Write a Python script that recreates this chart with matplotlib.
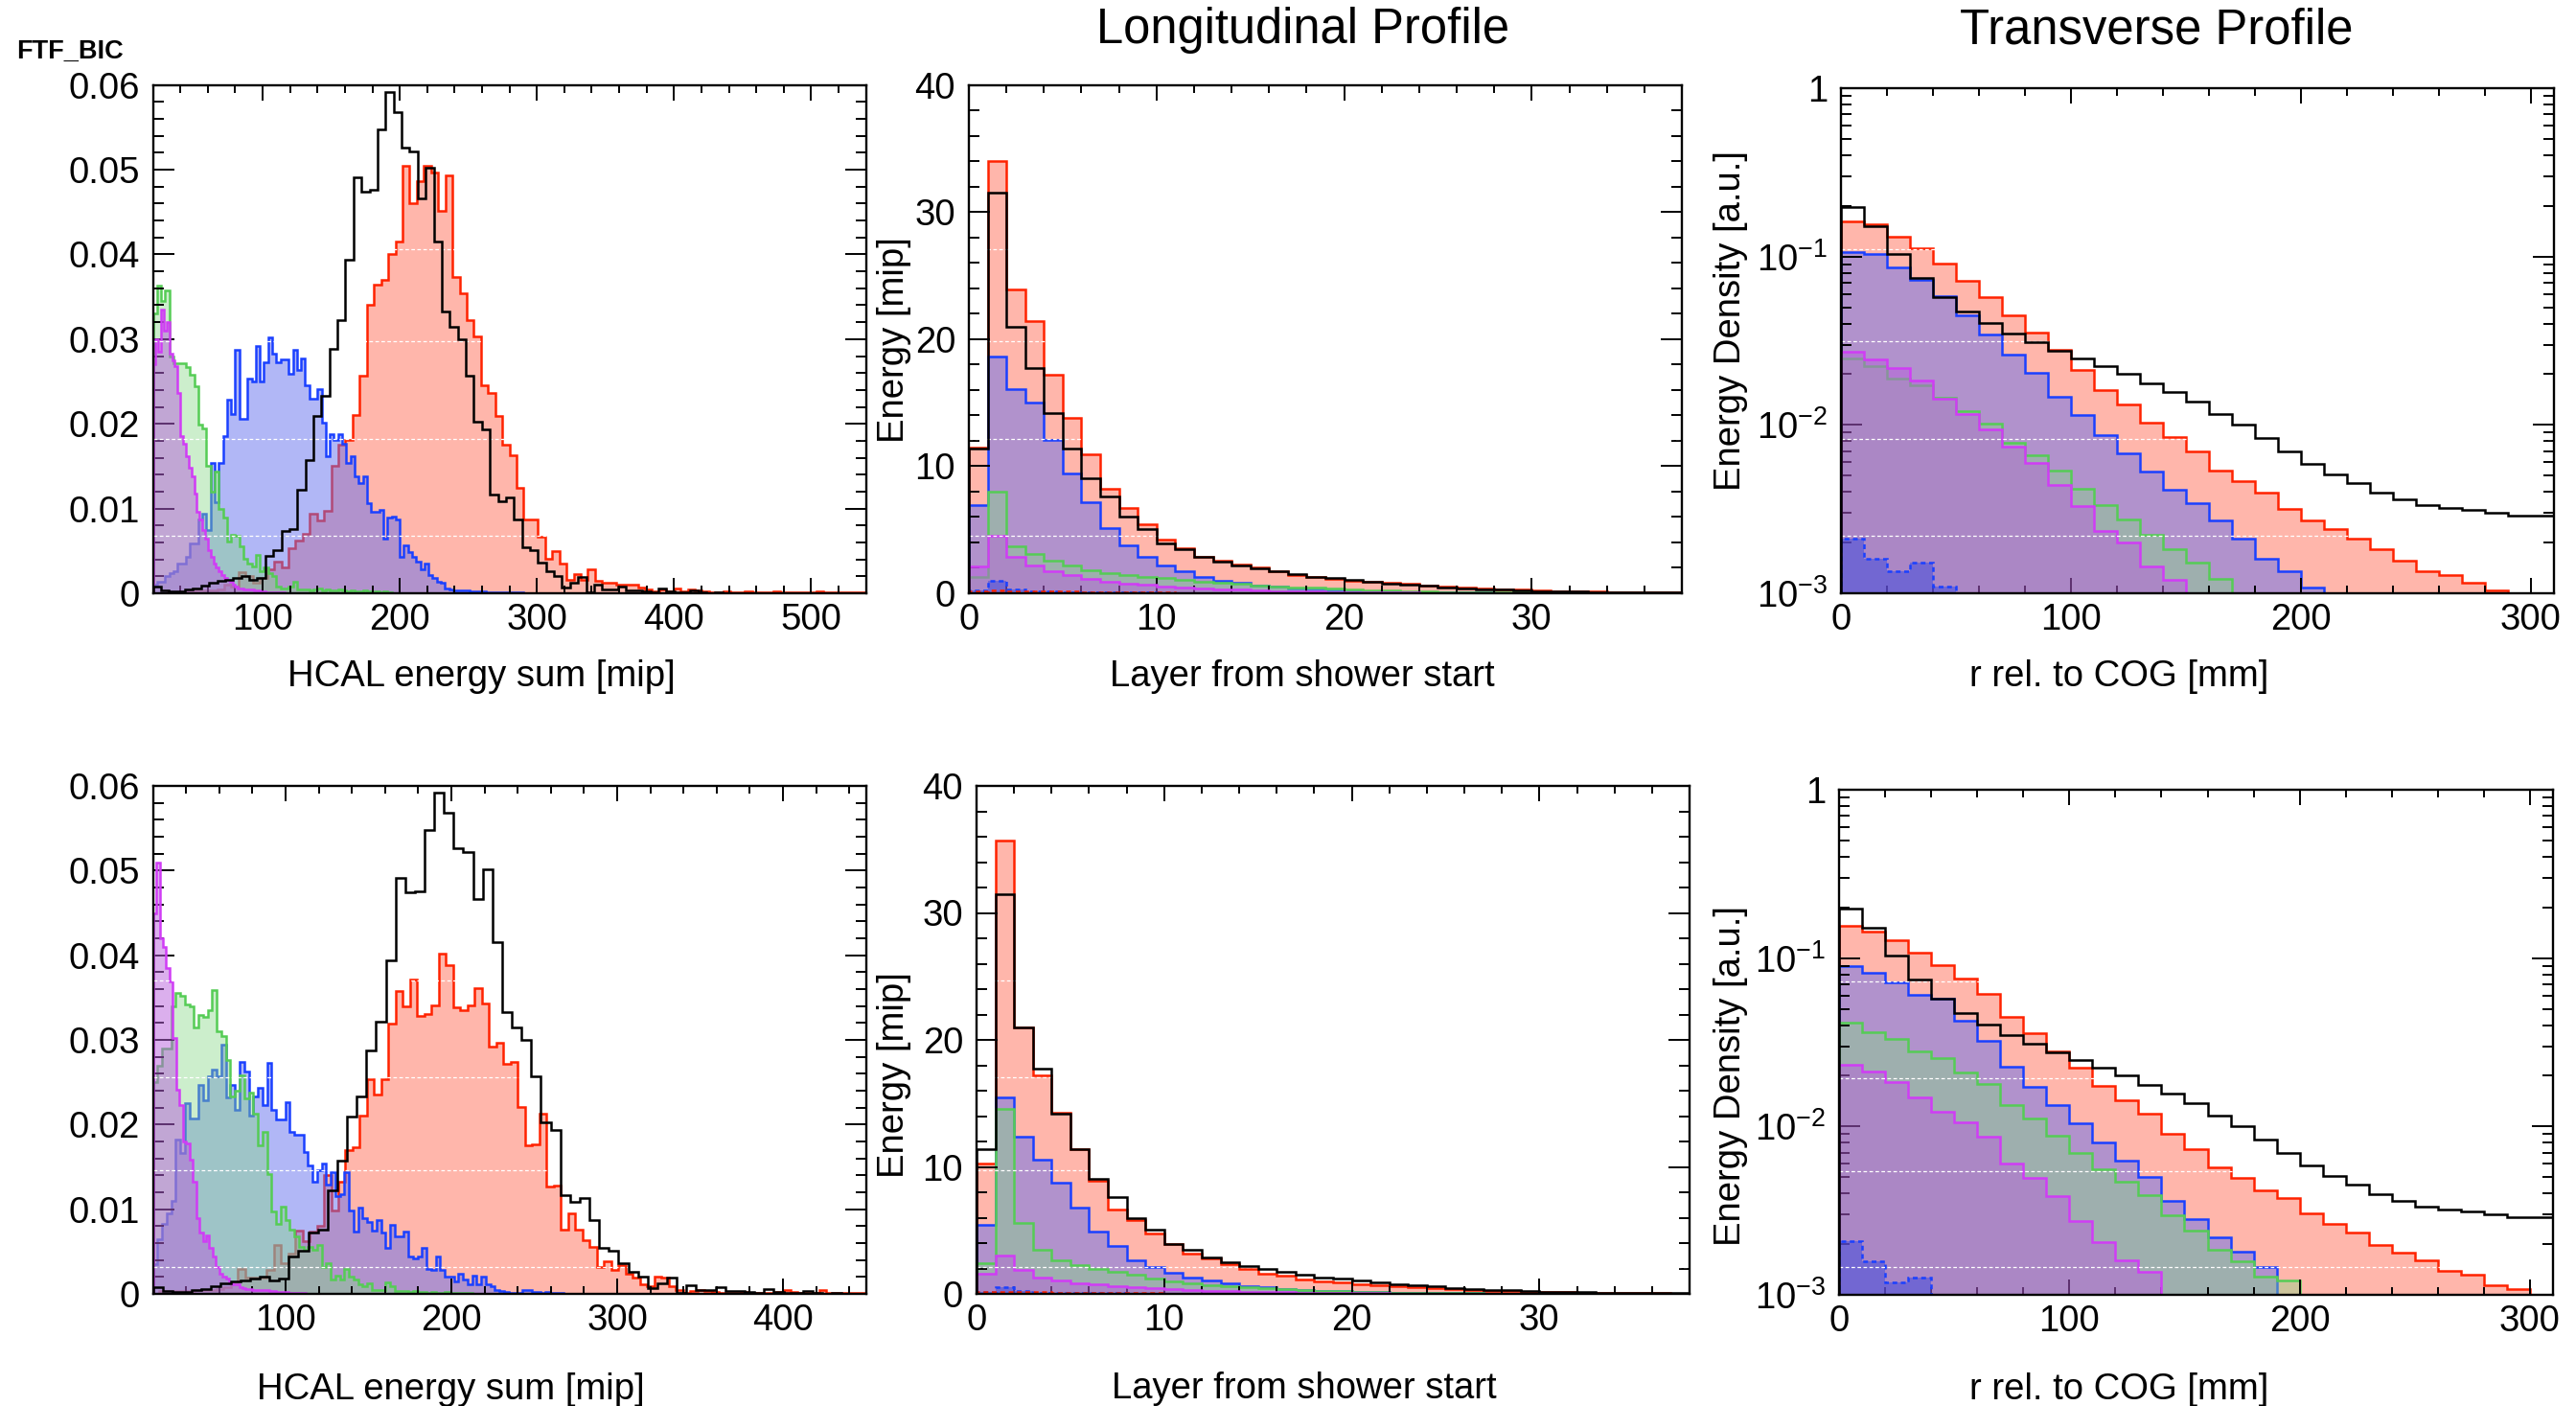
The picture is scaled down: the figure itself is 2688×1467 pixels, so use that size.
"""FTF_BIC: HCAL energy sum, longitudinal and transverse shower profiles (2 x 3 panels)."""

import matplotlib

matplotlib.use("Agg")
import matplotlib.pyplot as plt
import numpy as np
from matplotlib.ticker import (
    FixedFormatter,
    FixedLocator,
    FuncFormatter,
    LogLocator,
    MultipleLocator,
    NullFormatter,
)

plt.rcParams["font.family"] = ["Liberation Sans", "DejaVu Sans"]
plt.rcParams["mathtext.fontset"] = "custom"
plt.rcParams["mathtext.rm"] = "Liberation Sans"
plt.rcParams["mathtext.it"] = "Liberation Sans:italic"
plt.rcParams["mathtext.bf"] = "Liberation Sans:bold"

# ---------------- data: energy sum (top row) ----------------
# black = data, same in both rows; 5.85 mip bins from 20 mip
E_BLACK_START, E_BLACK_WIDTH = 20.0, 5.85
e_black = [0.0008, 0.0003, 0.0002, 0.0002, 0.0004, 0.0006, 0.0009, 0.0012, 0.0015, 0.0016,
           0.0018, 0.0020, 0.0016, 0.0018, 0.0044, 0.0051, 0.0073, 0.0076, 0.0122, 0.0157,
           0.0209, 0.0233, 0.0288, 0.0322, 0.0394, 0.0491, 0.0474, 0.0476, 0.0548, 0.0592,
           0.0568, 0.0526, 0.0522, 0.0466, 0.0502, 0.0415, 0.0333, 0.0315, 0.0300, 0.0257,
           0.0203, 0.0194, 0.0117, 0.0109, 0.0113, 0.0087, 0.0054, 0.0051, 0.0036, 0.0026,
           0.0020, 0.0007, 0.0013, 0.0019, 0.0001, 0.0010, 0.0005, 0.0004, 0.0008, 0.0003,
           0.0003, 0.0002, 0.0001, 0.0006, 0.0002, 0.0001, 0.0001, 0.0003, 0.0001, 0.0, 0.0001]

E1_RED_START, E1_RED_WIDTH = 20.0, 5.2
e1_red = [0.0, 0.0, 0.0001, 0.0001, 0.0002, 0.0002, 0.0003, 0.0003, 0.0003, 0.0005,
          0.0010, 0.0008, 0.0025, 0.0020, 0.0012, 0.0018, 0.0028, 0.0037, 0.0030, 0.0053,
          0.0062, 0.0070, 0.0094, 0.0086, 0.0097, 0.0150, 0.0175, 0.0181, 0.0210, 0.0257,
          0.0340, 0.0364, 0.0370, 0.0400, 0.0415, 0.0505, 0.0460, 0.0486, 0.0505, 0.0497,
          0.0451, 0.0493, 0.0373, 0.0354, 0.0323, 0.0303, 0.0245, 0.0237, 0.0209, 0.0175,
          0.0163, 0.0124, 0.0087, 0.0087, 0.0067, 0.0041, 0.0050, 0.0035, 0.0016, 0.0023,
          0.0016, 0.0028, 0.0015, 0.0013, 0.0012, 0.0010, 0.0010, 0.0010, 0.0007, 0.0004,
          0.0002, 0.0004, 0.0002, 0.0006, 0.0002, 0.0004, 0.0003, 0.0002, 0.0001, 0.0001,
          0.0002, 0.0001, 0.0001, 0.0002, 0.0001, 0.0001, 0.0001, 0.0002, 0.0001, 0.0001,
          0.0001, 0.0001, 0.0001, 0.0002, 0.0001, 0.0001, 0.0001, 0.0001, 0.0001, 0.0001]

E1_BLUE_START, E1_BLUE_WIDTH = 20.0, 3.0
e1_blue = [0.0010, 0.0014, 0.0014, 0.0020, 0.0024, 0.0026, 0.0035, 0.0035, 0.0043, 0.0059,
           0.0059, 0.0087, 0.0094, 0.0075, 0.0154, 0.0108, 0.0154, 0.0185, 0.0228, 0.0212,
           0.0287, 0.0206, 0.0206, 0.0254, 0.0250, 0.0292, 0.0250, 0.0273, 0.0302, 0.0283,
           0.0273, 0.0276, 0.0276, 0.0259, 0.0287, 0.0264, 0.0277, 0.0245, 0.0230, 0.0230,
           0.0241, 0.0201, 0.0162, 0.0188, 0.0181, 0.0188, 0.0177, 0.0154, 0.0162, 0.0138,
           0.0130, 0.0138, 0.0106, 0.0096, 0.0096, 0.0099, 0.0065, 0.0089, 0.0091, 0.0087,
           0.0043, 0.0057, 0.0049, 0.0043, 0.0037, 0.0028, 0.0035, 0.0022, 0.0018, 0.0014,
           0.0012, 0.0006, 0.0005, 0.0003, 0.0003, 0.0003, 0.0003, 0.0002, 0.0002, 0.0002,
           0.0002, 0.0001, 0.0001, 0.0001, 0.0001, 0.0001, 0.0001, 0.0001, 0.0001, 0.0001]

E1_GREEN_START, E1_GREEN_WIDTH = 20.0, 3.0
e1_green = [0.0330, 0.0363, 0.0345, 0.0357, 0.0280, 0.0272, 0.0272, 0.0272, 0.0267, 0.0258,
            0.0244, 0.0199, 0.0195, 0.0150, 0.0120, 0.0144, 0.0100, 0.0089, 0.0061, 0.0069,
            0.0068, 0.0055, 0.0041, 0.0035, 0.0032, 0.0045, 0.0026, 0.0030, 0.0024, 0.0020,
            0.0008, 0.0006, 0.0006, 0.0008, 0.0014, 0.0005, 0.0004, 0.0004, 0.0003, 0.0004,
            0.0006, 0.0003, 0.0004, 0.0003, 0.0003, 0.0005, 0.0003, 0.0002, 0.0003, 0.0002,
            0.0002, 0.0003, 0.0002, 0.0001, 0.0002, 0.0001, 0.0002, 0.0001]

E1_MAG_START, E1_MAG_WIDTH = 20.0, 2.0
e1_magenta = [0.0270, 0.0300, 0.0285, 0.0335, 0.0310, 0.0320, 0.0283, 0.0275, 0.0268, 0.0236,
              0.0185, 0.0177, 0.0162, 0.0148, 0.0138, 0.0118, 0.0096, 0.0087, 0.0075, 0.0065,
              0.0051, 0.0043, 0.0035, 0.0030, 0.0026, 0.0022, 0.0018, 0.0016, 0.0014, 0.0010,
              0.0008, 0.0006, 0.0006, 0.0005, 0.0005, 0.0004, 0.0004, 0.0003, 0.0003, 0.0002,
              0.0002, 0.0001, 0.0001, 0.0001, 0.0001, 0.0001, 0.0001, 0.0001]

# ---------------- data: energy sum (bottom row) ----------------
E2_RED_START, E2_RED_WIDTH = 19.2, 4.33
e2_red = [0.0, 0.0003, 0.0003, 0.0003, 0.0003, 0.0003, 0.0005, 0.0004, 0.0005, 0.0006,
          0.0008, 0.0013, 0.0029, 0.0019, 0.0019, 0.0019, 0.0028, 0.0058, 0.0036, 0.0048,
          0.0075, 0.0062, 0.0074, 0.0080, 0.0140, 0.0098, 0.0133, 0.0170, 0.0173, 0.0211,
          0.0254, 0.0235, 0.0254, 0.0319, 0.0358, 0.0340, 0.0371, 0.0328, 0.0331, 0.0341,
          0.0402, 0.0388, 0.0339, 0.0335, 0.0341, 0.0361, 0.0343, 0.0292, 0.0297, 0.0272,
          0.0274, 0.0221, 0.0176, 0.0177, 0.0213, 0.0127, 0.0128, 0.0076, 0.0095, 0.0076,
          0.0063, 0.0056, 0.0032, 0.0038, 0.0028, 0.0034, 0.0024, 0.0019, 0.0011, 0.0009,
          0.0020, 0.0019, 0.0009, 0.0004, 0.0001, 0.0003, 0.0004, 0.0003, 0.0002, 0.0001,
          0.0001, 0.0001, 0.0002, 0.0001, 0.0001, 0.0001, 0.0001, 0.0002, 0.0004, 0.0002,
          0.0001, 0.0001, 0.0001, 0.0004, 0.0001, 0.0001, 0.0001, 0.0001, 0.0001, 0.0001]

E2_BLUE_START, E2_BLUE_WIDTH = 20.0, 2.75
e2_blue = [0.0035, 0.0065, 0.0083, 0.0095, 0.0110, 0.0182, 0.0166, 0.0225, 0.0207, 0.0207,
           0.0247, 0.0229, 0.0257, 0.0265, 0.0257, 0.0294, 0.0232, 0.0247, 0.0217, 0.0274,
           0.0263, 0.0211, 0.0233, 0.0243, 0.0223, 0.0273, 0.0217, 0.0206, 0.0206, 0.0226,
           0.0191, 0.0188, 0.0188, 0.0167, 0.0152, 0.0133, 0.0146, 0.0154, 0.0129, 0.0144,
           0.0115, 0.0118, 0.0144, 0.0099, 0.0074, 0.0102, 0.0089, 0.0085, 0.0075, 0.0087,
           0.0073, 0.0054, 0.0081, 0.0068, 0.0068, 0.0074, 0.0044, 0.0042, 0.0044, 0.0054,
           0.0030, 0.0028, 0.0044, 0.0028, 0.0020, 0.0020, 0.0015, 0.0024, 0.0017, 0.0011,
           0.0022, 0.0011, 0.0020, 0.0011, 0.0009, 0.0005, 0.0003, 0.0002, 0.0001, 0.0001,
           0.0001, 0.0004, 0.0004, 0.0002, 0.0002, 0.0001, 0.0002, 0.0001, 0.0001, 0.0001]

E2_GREEN_START, E2_GREEN_WIDTH = 20.0, 2.75
e2_green = [0.0250, 0.0270, 0.0290, 0.0290, 0.0340, 0.0355, 0.0352, 0.0342, 0.0340, 0.0315,
            0.0330, 0.0327, 0.0335, 0.0359, 0.0310, 0.0305, 0.0276, 0.0233, 0.0240, 0.0258,
            0.0231, 0.0238, 0.0213, 0.0175, 0.0191, 0.0141, 0.0097, 0.0083, 0.0103, 0.0087,
            0.0076, 0.0068, 0.0056, 0.0052, 0.0056, 0.0052, 0.0058, 0.0032, 0.0036, 0.0017,
            0.0022, 0.0017, 0.0030, 0.0020, 0.0017, 0.0011, 0.0009, 0.0012, 0.0005, 0.0005,
            0.0005, 0.0014, 0.0009, 0.0003, 0.0003, 0.0003, 0.0002, 0.0003, 0.0002, 0.0002,
            0.0001, 0.0002, 0.0001, 0.0001, 0.0002, 0.0001, 0.0001, 0.0001, 0.0001, 0.0001]

E2_MAG_START, E2_MAG_WIDTH = 20.0, 2.0
e2_magenta = [0.0450, 0.0510, 0.0420, 0.0410, 0.0385, 0.0369, 0.0302, 0.0241, 0.0223, 0.0180,
              0.0178, 0.0158, 0.0133, 0.0089, 0.0072, 0.0062, 0.0069, 0.0054, 0.0044, 0.0032,
              0.0024, 0.0020, 0.0018, 0.0013, 0.0011, 0.0011, 0.0008, 0.0007, 0.0006, 0.0006,
              0.0005, 0.0005, 0.0005, 0.0004, 0.0004, 0.0003, 0.0003, 0.0002, 0.0002, 0.0002,
              0.0002, 0.0001, 0.0001, 0.0001, 0.0001, 0.0001]

# ---------------- data: longitudinal profile, 1 layer bins from 0 ----------------
l_black = [11.36, 31.5, 21.0, 17.7, 14.2, 11.4, 9.05, 7.6, 6.0, 5.04, 3.94, 3.46, 2.9, 2.5,
           2.2, 1.95, 1.7, 1.5, 1.3, 1.2, 1.05, 0.9, 0.78, 0.67, 0.57, 0.48, 0.4, 0.33, 0.27,
           0.22, 0.18, 0.15, 0.12, 0.1, 0.08, 0.06, 0.05, 0.04]
l1_red = [11.5, 34.0, 23.9, 21.4, 17.2, 13.8, 10.9, 8.2, 6.7, 5.45, 4.2, 3.55, 2.9, 2.6, 2.3,
          2.0, 1.7, 1.45, 1.25, 1.1, 1.0, 0.9, 0.8, 0.72, 0.63, 0.55, 0.45, 0.38, 0.32, 0.27,
          0.22, 0.18, 0.15, 0.12, 0.1, 0.08, 0.06, 0.05]
l1_blue = [6.96, 18.6, 16.1, 15.0, 12.07, 9.45, 7.14, 5.1, 3.8, 2.9, 2.15, 1.7, 1.3, 1.0, 0.8,
           0.63, 0.5, 0.4, 0.32, 0.25, 0.2, 0.16, 0.13, 0.1, 0.08, 0.06, 0.05, 0.04, 0.03,
           0.02, 0.02, 0.01, 0.01, 0.01, 0.01, 0.0, 0.0, 0.0]
l1_green = [1.3, 8.0, 3.67, 3.07, 2.55, 2.15, 1.84, 1.57, 1.4, 1.3, 1.18, 1.05, 0.92, 0.84,
            0.73, 0.63, 0.55, 0.48, 0.42, 0.36, 0.3, 0.25, 0.2, 0.16, 0.13, 0.1, 0.08, 0.06,
            0.05, 0.04, 0.03, 0.02, 0.02, 0.01, 0.01, 0.01, 0.0, 0.0]
l1_magenta = [2.1, 4.5, 2.83, 2.18, 1.7, 1.4, 1.1, 0.92, 0.79, 0.66, 0.55, 0.46, 0.38, 0.32,
              0.27, 0.22, 0.18, 0.15, 0.12, 0.1, 0.08, 0.06, 0.05, 0.04, 0.03, 0.02, 0.02,
              0.01, 0.01, 0.01]
l1_blue_dash = [0.25, 0.95, 0.3, 0.15, 0.12, 0.1, 0.08, 0.06, 0.05, 0.04, 0.03, 0.02]
l1_red_dash = [0.15, 0.2, 0.18, 0.15, 0.13, 0.12, 0.1, 0.08, 0.07, 0.05, 0.04, 0.03]

l2_red = [10.3, 35.7, 21.0, 17.2, 14.3, 11.4, 8.9, 6.65, 5.8, 4.73, 3.96, 3.15, 2.8, 2.35,
          1.93, 1.58, 1.4, 1.16, 0.98, 0.88, 0.77, 0.67, 0.6, 0.53, 0.45, 0.35, 0.3, 0.25,
          0.2, 0.17, 0.14, 0.12, 0.1, 0.08, 0.06, 0.05, 0.04, 0.03]
l2_blue = [5.43, 15.5, 12.4, 10.6, 8.76, 6.83, 4.9, 3.75, 2.63, 2.1, 1.65, 1.3, 1.05, 0.8,
           0.63, 0.5, 0.4, 0.32, 0.26, 0.2, 0.16, 0.13, 0.1, 0.08, 0.06, 0.05, 0.04, 0.03,
           0.02, 0.02, 0.01, 0.01, 0.01]
l2_green = [2.45, 14.6, 5.6, 3.5, 2.63, 2.28, 2.0, 1.75, 1.5, 1.23, 0.98, 0.8, 0.7, 0.6, 0.53,
            0.45, 0.35, 0.3, 0.25, 0.2, 0.16, 0.13, 0.1, 0.08, 0.06, 0.05, 0.04, 0.03, 0.02,
            0.02, 0.01, 0.01]
l2_magenta = [1.58, 3.05, 1.86, 1.3, 1.05, 0.8, 0.77, 0.63, 0.53, 0.45, 0.38, 0.32, 0.26,
              0.22, 0.18, 0.15, 0.12, 0.1, 0.08, 0.06, 0.05, 0.04, 0.03, 0.02, 0.02, 0.01,
              0.01]
l2_blue_dash = [0.15, 0.55, 0.2, 0.1, 0.08, 0.06, 0.05, 0.04, 0.03, 0.02]
l2_red_dash = [0.12, 0.18, 0.15, 0.13, 0.11, 0.1, 0.08, 0.07, 0.05, 0.04, 0.03]

# ---------------- data: transverse profile, 10 mm bins from 0 ----------------
t_black = [0.1956, 0.1509, 0.1038, 0.0751, 0.0574, 0.0472, 0.0403, 0.0351, 0.0310, 0.0277,
           0.0247, 0.0223, 0.0201, 0.0177, 0.0157, 0.0137, 0.01164, 0.00998, 0.00839,
           0.00697, 0.0059, 0.00511, 0.00452, 0.00394, 0.00359, 0.00332, 0.00322, 0.00312,
           0.00299, 0.0029, 0.0029]
t1_red = [0.1616, 0.1558, 0.1316, 0.1122, 0.0914, 0.0721, 0.0572, 0.0445, 0.0354, 0.0280,
          0.0211, 0.0162, 0.0132, 0.01036, 0.00847, 0.00697, 0.00537, 0.00466, 0.00394,
          0.00318, 0.00272, 0.00241, 0.00212, 0.00182, 0.00156, 0.00136, 0.00128, 0.00115,
          0.00104]
t1_blue = [0.1062, 0.1038, 0.0866, 0.0728, 0.058, 0.0447, 0.0343, 0.0261, 0.0203, 0.01477,
           0.0115, 0.00874, 0.00681, 0.0053, 0.00412, 0.00344, 0.0027, 0.0021, 0.0016,
           0.00135, 0.00108]
t1_green = [0.0249, 0.02246, 0.0188, 0.0171, 0.01457, 0.01214, 0.01016, 0.00788, 0.00659,
            0.00535, 0.00416, 0.00336, 0.00276, 0.00223, 0.00183, 0.00153, 0.00122]
t1_magenta = [0.0273, 0.0246, 0.0218, 0.0184, 0.01424, 0.0116, 0.00936, 0.00746, 0.00594,
              0.00442, 0.00331, 0.00233, 0.00201, 0.00145, 0.0012]
t1_blue_dash = [0.0021, 0.0016, 0.00135, 0.00153, 0.00109]

t2_red = [0.1556, 0.1438, 0.1273, 0.1074, 0.0911, 0.0760, 0.0614, 0.0447, 0.0359, 0.0278,
          0.0222, 0.01733, 0.01426, 0.01189, 0.00904, 0.0073, 0.00573, 0.00498, 0.00415,
          0.00374, 0.00306, 0.00263, 0.00233, 0.00198, 0.00178, 0.0016, 0.00139, 0.00131,
          0.00114, 0.00108]
t2_blue = [0.0895, 0.0817, 0.0714, 0.0603, 0.0571, 0.0426, 0.0324, 0.0225, 0.0171, 0.0134,
           0.0105, 0.0080, 0.0063, 0.0050, 0.0036, 0.0028, 0.0022, 0.0018, 0.00146]
t2_green = [0.0413, 0.0361, 0.0330, 0.0278, 0.0254, 0.0208, 0.0179, 0.0134, 0.0112, 0.00877,
            0.0070, 0.00556, 0.00472, 0.00393, 0.00297, 0.00242, 0.00186, 0.00158, 0.00129,
            0.00122]
t2_magenta = [0.0232, 0.0212, 0.0184, 0.0149, 0.01225, 0.01052, 0.00866, 0.00602, 0.00498,
              0.00386, 0.00276, 0.00206, 0.0016, 0.00137]
t2_blue_dash = [0.00208, 0.00158, 0.00118, 0.00127]

L_WIDTH = 1.0   # layer bins
T_WIDTH = 10.0  # mm bins

# ---------------- colours ----------------
RED, RED_FILL = "#ff2200", "#ff6e58"
BLUE, BLUE_FILL = "#1a40ff", "#6470ee"
GREEN, GREEN_FILL = "#55cc55", "#86d886"
MAGENTA, MAGENTA_FILL = "#d03cf5", "#b860dc"
DASH_BLUE_FILL = "#3a48e0"

W, H = 2688, 1467
fig = plt.figure(figsize=(W / 100, H / 100), dpi=100)


def px_box(left, top, right, bottom):
    """axes rectangle from pixel edges of the reference."""
    return [left / W, 1 - bottom / H, (right - left) / W, (bottom - top) / H]


def edges_for(values, start, width):
    return start + width * np.arange(len(values) + 1)


def hist(ax, values, start, width, line, fill=None, alpha=0.5, ls="-", z=1.0, base=0.0):
    values = np.asarray(values, dtype=float)
    edges = edges_for(values, start, width)
    if fill is not None:
        ax.stairs(values, edges, baseline=base, fill=True, color=fill, alpha=alpha, lw=0, zorder=z)
    ax.stairs(values, edges, baseline=base, color=line, lw=1.8, ls=ls, zorder=z + 0.05)


def style(ax):
    for s in ax.spines.values():
        s.set_linewidth(1.7)
        s.set_zorder(5)
    ax.tick_params(which="both", direction="in", top=True, right=True, labelsize=27.5, width=1.4)
    ax.tick_params(axis="x", which="major", length=11.5, pad=7)
    ax.tick_params(axis="x", which="minor", length=5.8)
    ax.tick_params(axis="y", which="major", length=15.8, pad=10)
    ax.tick_params(axis="y", which="minor", length=7.9)


def white_grid(ax, fracs):
    for f in fracs:
        ax.plot([0, 1], [f, f], transform=ax.transAxes, color="white", lw=0.9,
                ls=(0, (3, 2)), zorder=1.9)


def energy_panel(box, red, blue, green, magenta, xmax, grid):
    ax = fig.add_axes(px_box(*box))
    hist(ax, red[0], red[1], red[2], RED, RED_FILL, z=1.0)
    hist(ax, blue[0], blue[1], blue[2], BLUE, BLUE_FILL, z=1.2)
    hist(ax, green[0], green[1], green[2], GREEN, GREEN_FILL, alpha=0.42, z=1.4)
    hist(ax, magenta[0], magenta[1], magenta[2], MAGENTA, MAGENTA_FILL, z=1.6)
    white_grid(ax, grid)
    hist(ax, e_black, E_BLACK_START, E_BLACK_WIDTH, "black", z=2.0)
    ax.set_xlim(20, xmax)
    ax.set_ylim(0, 0.06)
    ax.xaxis.set_major_locator(MultipleLocator(100))
    ax.xaxis.set_minor_locator(MultipleLocator(20))
    ax.yaxis.set_major_locator(MultipleLocator(0.01))
    ax.yaxis.set_minor_locator(MultipleLocator(0.002))
    ax.yaxis.set_major_formatter(FuncFormatter(lambda v, _: "0" if abs(v) < 1e-9 else f"{v:.2f}"))
    style(ax)
    return ax


def long_panel(box, red, blue, green, magenta, blue_dash, red_dash, grid):
    ax = fig.add_axes(px_box(*box))
    hist(ax, red, 0, L_WIDTH, RED, RED_FILL, z=1.0)
    hist(ax, blue, 0, L_WIDTH, BLUE, BLUE_FILL, z=1.2)
    hist(ax, green, 0, L_WIDTH, GREEN, GREEN_FILL, alpha=0.42, z=1.4)
    hist(ax, magenta, 0, L_WIDTH, MAGENTA, MAGENTA_FILL, z=1.6)
    hist(ax, blue_dash, 0, L_WIDTH, BLUE, DASH_BLUE_FILL, alpha=0.5, ls=(0, (2, 1.5)), z=1.7)
    hist(ax, red_dash, 0, L_WIDTH, RED, ls=(0, (2, 1.5)), z=1.75)
    white_grid(ax, grid)
    hist(ax, l_black, 0, L_WIDTH, "black", z=2.0)
    ax.set_xlim(0, 38)
    ax.set_ylim(0, 40)
    ax.xaxis.set_major_locator(MultipleLocator(10))
    ax.xaxis.set_minor_locator(MultipleLocator(2))
    ax.yaxis.set_major_locator(MultipleLocator(10))
    ax.yaxis.set_minor_locator(MultipleLocator(2))
    style(ax)
    return ax


def trans_panel(box, red, blue, green, magenta, blue_dash, grid):
    ax = fig.add_axes(px_box(*box))
    ax.set_yscale("log")
    b = 1e-4
    hist(ax, red, 0, T_WIDTH, RED, RED_FILL, z=1.0, base=b)
    hist(ax, blue, 0, T_WIDTH, BLUE, BLUE_FILL, z=1.2, base=b)
    hist(ax, green, 0, T_WIDTH, GREEN, GREEN_FILL, alpha=0.42, z=1.4, base=b)
    hist(ax, magenta, 0, T_WIDTH, MAGENTA, MAGENTA_FILL, z=1.6, base=b)
    hist(ax, blue_dash, 0, T_WIDTH, BLUE, DASH_BLUE_FILL, alpha=0.5, ls=(0, (2, 1.5)), z=1.7, base=b)
    white_grid(ax, grid)
    hist(ax, t_black, 0, T_WIDTH, "black", z=2.0, base=b)
    ax.set_xlim(0, 310)
    ax.set_ylim(1e-3, 1)
    ax.xaxis.set_major_locator(MultipleLocator(100))
    ax.xaxis.set_minor_locator(MultipleLocator(20))
    ax.yaxis.set_major_locator(FixedLocator([1e-3, 1e-2, 1e-1, 1.0]))
    ax.yaxis.set_major_formatter(FixedFormatter([r"$10^{-3}$", r"$10^{-2}$", r"$10^{-1}$", "1"]))
    ax.yaxis.set_minor_locator(LogLocator(base=10, subs=np.arange(2, 10), numticks=20))
    ax.yaxis.set_minor_formatter(NullFormatter())
    style(ax)
    return ax


top_grid = [0.677, 0.496, 0.304, 0.113]
bot_grid = [0.617, 0.426, 0.243, 0.053]

energy_panel((159.6, 88.7, 903.6, 619), (e1_red, E1_RED_START, E1_RED_WIDTH),
             (e1_blue, E1_BLUE_START, E1_BLUE_WIDTH), (e1_green, E1_GREEN_START, E1_GREEN_WIDTH),
             (e1_magenta, E1_MAG_START, E1_MAG_WIDTH), 540, top_grid)
long_panel((1011, 88.7, 1755, 619), l1_red, l1_blue, l1_green, l1_magenta,
           l1_blue_dash, l1_red_dash, top_grid)
trans_panel((1921, 92, 2665, 619), t1_red, t1_blue, t1_green, t1_magenta, t1_blue_dash,
            [0.681, 0.499, 0.3055, 0.114])

energy_panel((159.6, 820, 903.6, 1350), (e2_red, E2_RED_START, E2_RED_WIDTH),
             (e2_blue, E2_BLUE_START, E2_BLUE_WIDTH), (e2_green, E2_GREEN_START, E2_GREEN_WIDTH),
             (e2_magenta, E2_MAG_START, E2_MAG_WIDTH), 450, bot_grid)
long_panel((1019, 820, 1763, 1350), l2_red, l2_blue, l2_green, l2_magenta,
           l2_blue_dash, l2_red_dash, bot_grid)
trans_panel((1919, 824, 2664, 1351), t2_red, t2_blue, t2_green, t2_magenta, t2_blue_dash,
            [0.6205, 0.429, 0.245, 0.055])


def ftext(x, y, s, **kw):
    fig.text(x / W, 1 - y / H, s, ha="center", va="center", **kw)


# axis titles, placed as in the reference (ROOT style offsets)
ftext(1360, 32, "Longitudinal Profile", fontsize=36.5)
ftext(2250, 32, "Transverse Profile", fontsize=36.5)
fig.text(17.6 / W, 1 - 53.5 / H, "FTF_BIC", ha="left", va="center", fontsize=19.5, fontweight="bold")

ftext(502, 706, "HCAL energy sum [mip]", fontsize=27.5)
ftext(1359, 706, "Layer from shower start", fontsize=27.5)
ftext(2211, 706, "r rel. to COG [mm]", fontsize=27.5)
ftext(470, 1450, "HCAL energy sum [mip]", fontsize=27.5)
ftext(1361, 1449, "Layer from shower start", fontsize=27.5)
ftext(2211, 1450, "r rel. to COG [mm]", fontsize=27.5)

ftext(933, 355, "Energy [mip]", fontsize=27.5, rotation=90)
ftext(1806, 334, "Energy Density [a.u.]", fontsize=27.5, rotation=90)
ftext(933, 1122, "Energy [mip]", fontsize=27.5, rotation=90)
ftext(1806, 1122, "Energy Density [a.u.]", fontsize=27.5, rotation=90)

fig.savefig("out.png", dpi=100, facecolor="white")
